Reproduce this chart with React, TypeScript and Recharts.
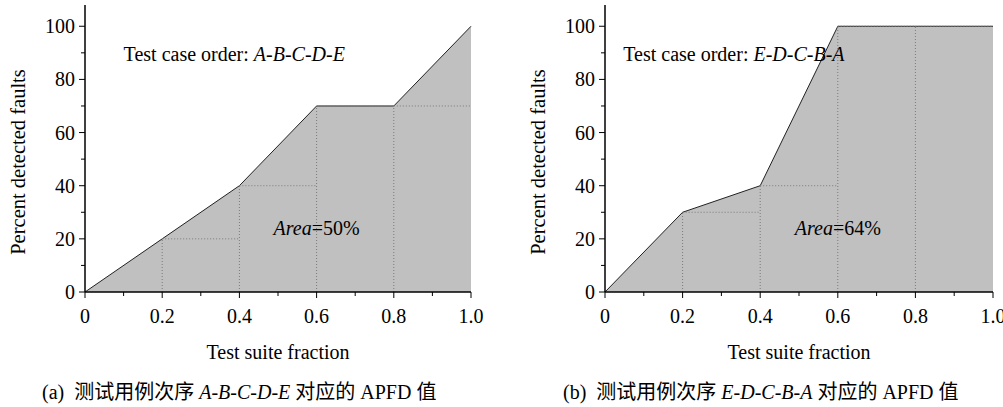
import { ComposedChart, Area, XAxis, YAxis, ReferenceLine, ReferenceDot } from 'recharts'

// data
const fractions = [0, 0.2, 0.4, 0.6, 0.8, 1.0]
const faultsABCDE = [0, 20, 40, 70, 70, 100]
const faultsEDCBA = [0, 30, 40, 100, 100, 100]

const xTicks = [0, 0.1, 0.2, 0.3, 0.4, 0.5, 0.6, 0.7, 0.8, 0.9, 1.0]
const xTickLabels = ['0', '0.2', '0.4', '0.6', '0.8', '1.0']
const yTicks = [0, 10, 20, 30, 40, 50, 60, 70, 80, 90, 100]
const yTickLabels = ['0', '20', '40', '60', '80', '100']

const FONT = "'Liberation Serif', 'Times New Roman', 'Noto Sans CJK SC', serif"

function XTick(props: any) {
  const { x, y, index } = props
  const major = index % 2 === 0
  return (
    <g>
      <line x1={x} x2={x} y1={y} y2={y + (major ? 6 : 4)} stroke="#000" strokeWidth={1} />
      {major && (
        <text x={x} y={y + 31} textAnchor="middle" fontSize={20} fill="#000">
          {xTickLabels[index / 2]}
        </text>
      )}
    </g>
  )
}

function YTick(props: any) {
  const { x, y, index } = props
  const major = index % 2 === 0
  return (
    <g>
      <line x1={x - (major ? 6 : 4)} x2={x} y1={y} y2={y} stroke="#000" strokeWidth={1} />
      {major && (
        <text x={x - 10} y={y + 7} textAnchor="end" fontSize={20} fill="#000">
          {yTickLabels[index / 2]}
        </text>
      )}
    </g>
  )
}

interface PanelProps {
  left: number
  width: number
  axisWidth: number
  rightMargin: number
  values: number[]
  order: string
  area: string
  orderX: number
  caption: string
  captionTag: string
  captionLeft: number
}

function Panel(p: PanelProps) {
  const data = fractions.map((f, i) => ({ x: f, v: p.values[i] }))
  return (
    <div style={{ position: 'absolute', left: p.left, top: 0 }}>
      <ComposedChart width={p.width} height={365} data={data}
        margin={{ top: 5, right: p.rightMargin, left: 0, bottom: 0 }}>
        <XAxis dataKey="x" type="number" domain={[0, 1]} ticks={xTicks} interval={0}
          tickSize={0} tickMargin={0} tickLine={false} height={73}
          axisLine={{ stroke: '#000', strokeWidth: 1.5 }} tick={<XTick />}
          label={(lp: any) => {
            const vb = lp.viewBox
            return (
              <text x={vb.x + vb.width / 2} y={359} textAnchor="middle" fontSize={20} fill="#000">
                Test suite fraction
              </text>
            )
          }} />
        <YAxis type="number" domain={[0, 108]} ticks={yTicks} interval={0}
          tickSize={0} tickMargin={0} tickLine={false} width={p.axisWidth}
          axisLine={{ stroke: '#000', strokeWidth: 1.5 }} tick={<YTick />}
          label={() => (
            <text x={p.axisWidth - 67} y={162} dy="0.35em" textAnchor="middle" fontSize={20.5}
              fill="#000" transform={`rotate(-90, ${p.axisWidth - 67}, 162)`}>
              Percent detected faults
            </text>
          )} />
        <Area dataKey="v" type="linear" stroke="#222" strokeWidth={1} fill="#c0c0c0"
          fillOpacity={1} dot={false} activeDot={false} isAnimationActive={false} />
        {fractions.slice(1, 5).map((f, i) => (
          <ReferenceLine key={'v' + i} segment={[{ x: f, y: 0 }, { x: f, y: p.values[i + 1] }]}
            stroke="#7a7a7a" strokeDasharray="1 2" />
        ))}
        {fractions.slice(1, 5).map((f, i) => (
          <ReferenceLine key={'h' + i}
            segment={[{ x: f, y: p.values[i + 1] }, { x: fractions[i + 2], y: p.values[i + 1] }]}
            stroke="#7a7a7a" strokeDasharray="1 2" />
        ))}
        <ReferenceDot x={p.orderX} y={87} r={1} isFront
          shape={(s: any) => (
            <text x={s.cx} y={s.cy} fontSize={20} fill="#000">
              Test case order: <tspan fontStyle="italic">{p.order}</tspan>
            </text>
          )} />
        <ReferenceDot x={0.6} y={21.5} r={1} isFront
          shape={(s: any) => (
            <text x={s.cx} y={s.cy} textAnchor="middle" fontSize={20} fill="#000">
              <tspan fontStyle="italic">Area</tspan>={p.area}
            </text>
          )} />
      </ComposedChart>
      <div style={{
        position: 'absolute', left: p.captionLeft, top: 380, fontSize: 20,
        lineHeight: '24px', whiteSpace: 'nowrap', color: '#000'
      }}>
        {p.captionTag}&nbsp; 测试用例次序 <i>{p.order}</i> 对应的 APFD 值
      </div>
    </div>
  )
}

export default function App() {
  return (
    <div style={{
      position: 'absolute', left: 0, top: 0, width: 1003, height: 407,
      background: '#fff', fontFamily: FONT, overflow: 'hidden'
    }}>
      <Panel left={0} width={500} axisWidth={85} rightMargin={29} values={faultsABCDE}
        order="A-B-C-D-E" area="50%" orderX={0.1} caption="a" captionTag="(a)" captionLeft={42} />
      <Panel left={500} width={503} axisWidth={105} rightMargin={10} values={faultsEDCBA}
        order="E-D-C-B-A" area="64%" orderX={0.047} caption="b" captionTag="(b)" captionLeft={63} />
    </div>
  )
}
